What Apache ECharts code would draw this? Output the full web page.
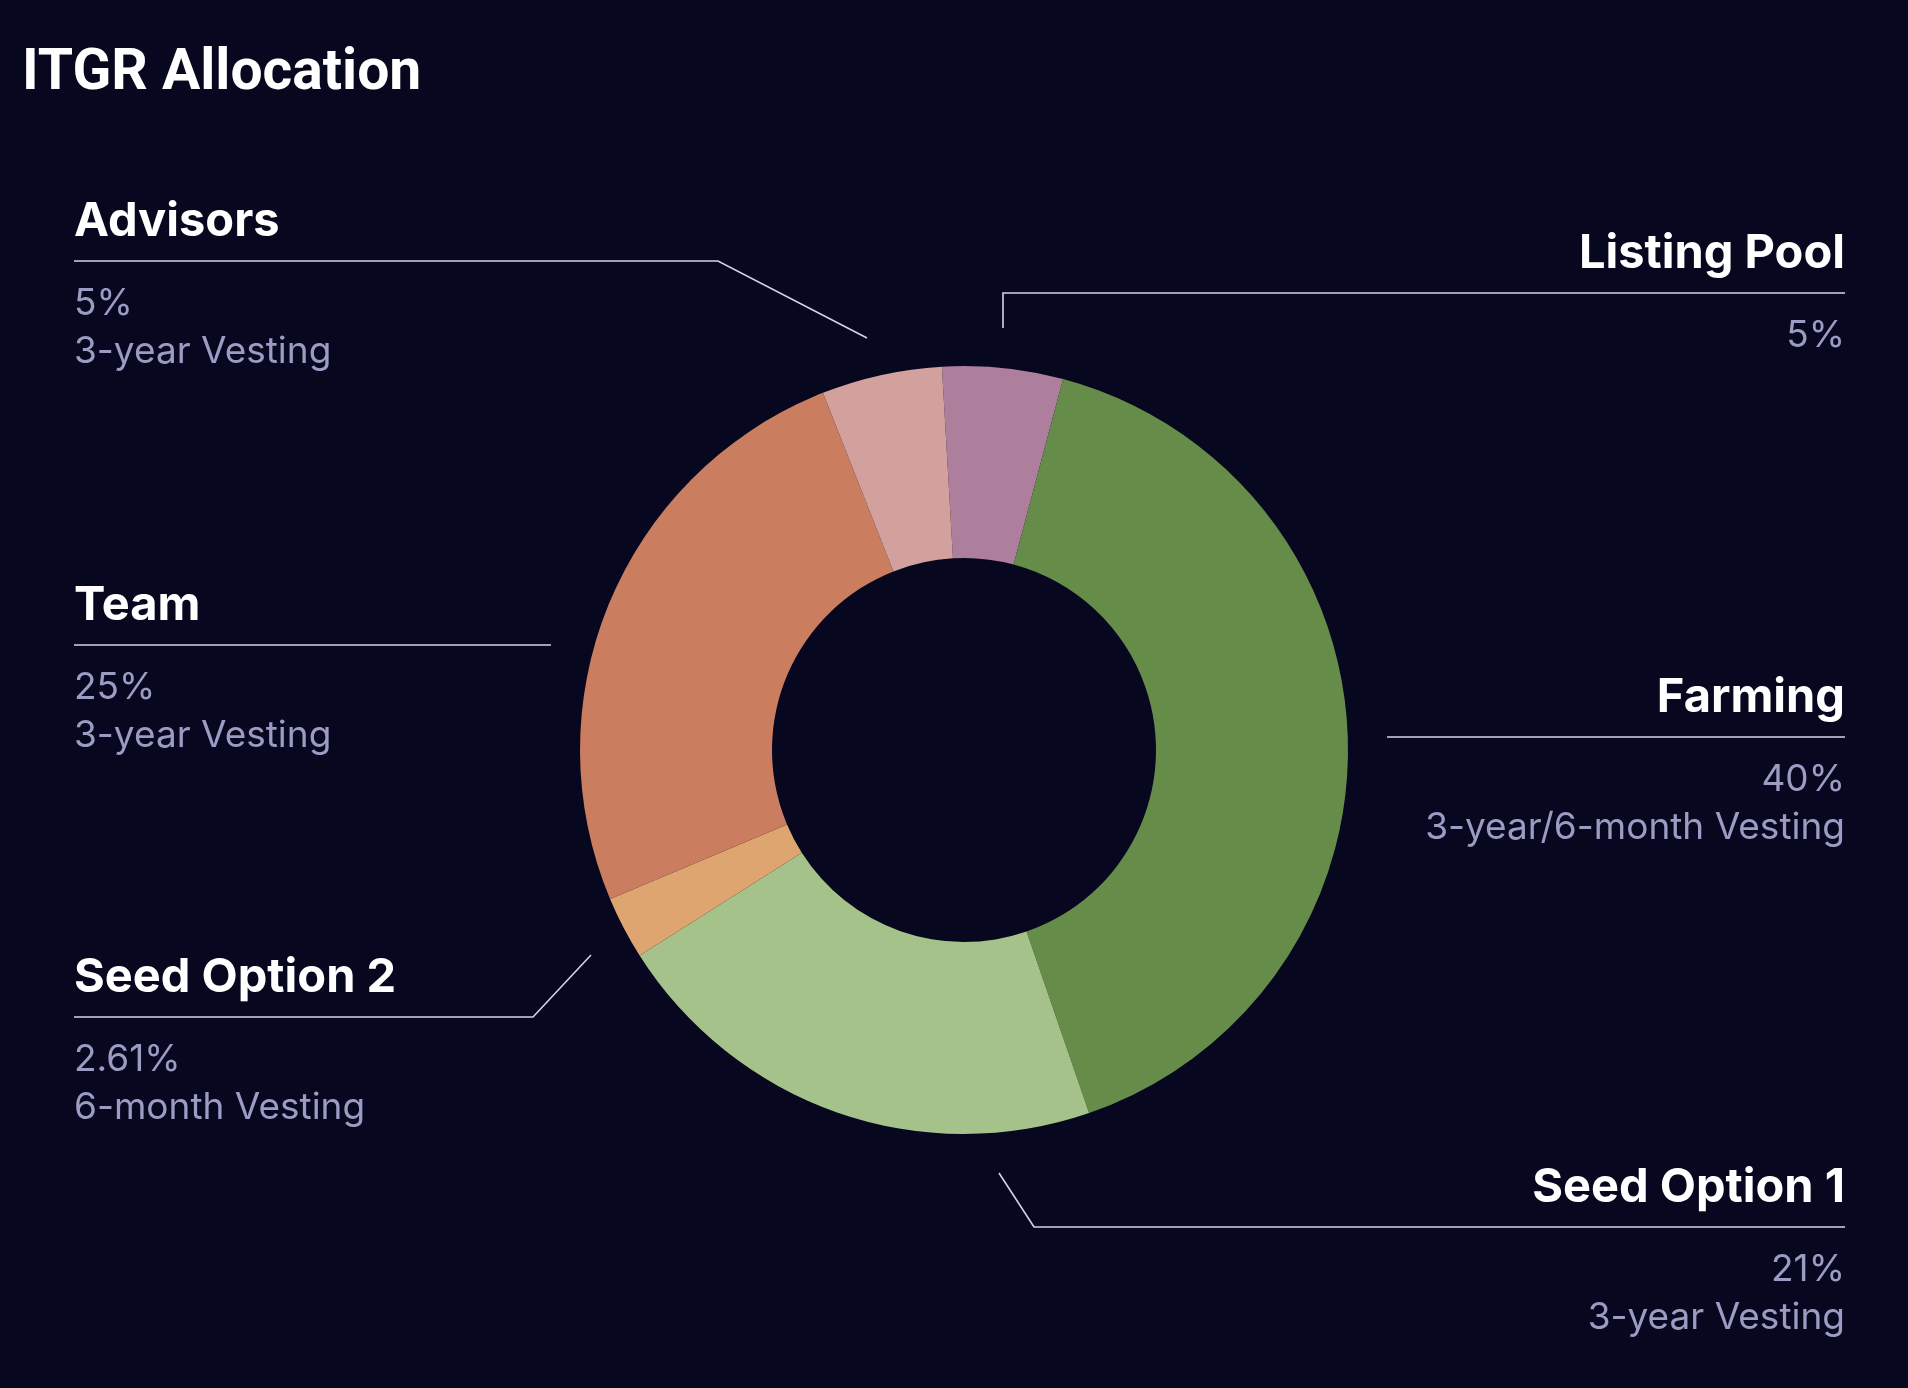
<!DOCTYPE html>
<html><head><meta charset="utf-8">
<script src="https://cdn.jsdelivr.net/npm/echarts@6/dist/echarts.min.js"></script>
<style>html,body{margin:0;padding:0;background:#07071f}#chart{width:1908px;height:1388px}</style>
</head><body><div id="chart"></div>
<script>
const categories = ['Listing Pool', 'Farming', 'Seed Option 1', 'Seed Option 2', 'Team', 'Advisors'];
const values = [5, 40, 21, 2.61, 25, 5];
const percentLabels = ['5%', '40%', '21%', '2.61%', '25%', '5%'];
const vestingLabels = ['', '3-year/6-month Vesting', '3-year Vesting', '6-month Vesting', '3-year Vesting', '3-year Vesting'];
const colors = ['#ad7f9d', '#668c4a', '#a5c28b', '#dea571', '#cb7d5f', '#d3a19d'];

// annotation layout (label block anchor side + leader polyline), pixels
const labelLayouts = {
  'Listing Pool': { side: 'right', lineY: 293, points: [[1003, 328], [1003, 293], [1845, 293]] },
  'Farming':      { side: 'right', lineY: 737, points: [[1387, 737], [1387, 737], [1845, 737]] },
  'Seed Option 1':{ side: 'right', lineY: 1227, points: [[999, 1173], [1034, 1227], [1845, 1227]] },
  'Seed Option 2':{ side: 'left', lineY: 1017, points: [[591, 955], [533, 1017], [74, 1017]] },
  'Team':         { side: 'left', lineY: 645, points: [[551, 645], [551, 645], [74, 645]] },
  'Advisors':     { side: 'left', lineY: 261, points: [[867, 338], [718, 261], [74, 261]] }
};
const LEFT_X = 74, RIGHT_X = 1845, LABEL_OFFSET = 98;

const chart = echarts.init(document.getElementById('chart'), null, { renderer: 'canvas' });
chart.setOption({
  backgroundColor: '#07071f',
  animation: false,
  title: {
    text: 'ITGR Allocation',
    left: 17, top: 41,
    textStyle: { color: '#ffffff', fontSize: 57, fontWeight: 'bold', fontFamily: 'Roboto' }
  },
  series: [{
    type: 'pie',
    center: [964, 750],
    radius: [192, 384],
    startAngle: 93.3,
    clockwise: true,
    avoidLabelOverlap: false,
    emphasis: { disabled: true },
    data: categories.map((c, i) => ({ name: c, value: values[i], itemStyle: { color: colors[i] } })),
    label: {
      show: true,
      position: 'outside',
      formatter: p => {
        const i = p.dataIndex;
        let s = '{n|' + categories[i] + '}\n{p|' + percentLabels[i] + '}';
        if (vestingLabels[i]) s += '\n{p|' + vestingLabels[i] + '}';
        return s;
      },
      rich: {
        n: { color: '#ffffff', fontSize: 47, fontWeight: 'bold', fontFamily: 'Inter', lineHeight: 117 },
        p: { color: '#9b9bc3', fontSize: 37, fontFamily: 'Inter', lineHeight: 48 }
      }
    },
    labelLine: { show: true, smooth: false, length: 10, length2: 10, lineStyle: { color: '#d4d4e4', width: 1.6 } },
    labelLayout: params => {
      const L = labelLayouts[categories[params.dataIndex]];
      return {
        x: L.side === 'left' ? LEFT_X : RIGHT_X,
        y: L.lineY - LABEL_OFFSET,
        align: L.side,
        verticalAlign: 'top',
        labelLinePoints: L.points
      };
    }
  }]
});
</script></body></html>
